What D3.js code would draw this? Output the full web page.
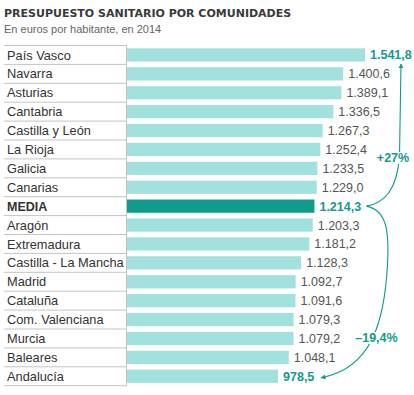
<!DOCTYPE html>
<html lang="es">
<head>
<meta charset="UTF-8">
<title>Presupuesto sanitario por comunidades</title>
<style>
  body { margin: 0; background: #fff; }
  svg { display: block; }
</style>
</head>
<body>
<svg id="chart" width="414" height="395"></svg>
<script src="https://d3js.org/d3.v7.min.js"></script>
<script>
// datos: euros por habitante, 2014
const regions = ["País Vasco", "Navarra", "Asturias", "Cantabria", "Castilla y León", "La Rioja",
  "Galicia", "Canarias", "MEDIA", "Aragón", "Extremadura", "Castilla - La Mancha", "Madrid",
  "Cataluña", "Com. Valenciana", "Murcia", "Baleares", "Andalucía"]
const values = [1541.8, 1400.6, 1389.1, 1336.5, 1267.3, 1252.4, 1233.5, 1229.0, 1214.3,
  1203.3, 1181.2, 1128.3, 1092.7, 1091.6, 1079.3, 1079.2, 1048.1, 978.5]
const highlighted = ["País Vasco", "MEDIA", "Andalucía"]
const annotations = ["+27%", "\u201319,4%"]

const data = regions.map((r, i) => ({ region: r, value: values[i] }))

const teal = "#119b8d"
const light = "#a3e1de"

const es = d3.formatLocale({ decimal: ",", thousands: ".", grouping: [3], currency: ["", "€"] })
const fmt = es.format(",.1f")

const svg = d3.select("#chart")

// titulo
svg.append("text")
  .attr("x", 4).attr("y", 17)
  .attr("font-family", "DejaVu Sans").attr("font-weight", "bold").attr("font-size", 11)
  .attr("fill", "#3a3a3a")
  .text("PRESUPUESTO SANITARIO POR COMUNIDADES")

svg.append("text")
  .attr("x", 4).attr("y", 33)
  .attr("font-family", "Liberation Sans, Arial").attr("font-size", 11)
  .attr("fill", "#666")
  .text("En euros por habitante, en 2014")

const topY = 45.5
const step = 18.9
const labelLeft = 4
const barLeft = 127

const rows = d3.scaleBand().domain(regions).range([topY, topY + step * regions.length])
const y = d3.scaleBand().domain(regions).range([topY, topY + step * regions.length])
  .paddingInner(0.3).paddingOuter(0.15)
const x = d3.scaleLinear().domain([0, d3.max(values)]).range([barLeft, 365])

// tabla de nombres
const grid = svg.append("g")
grid.append("line")
  .attr("x1", labelLeft).attr("x2", barLeft - 0.5)
  .attr("y1", topY).attr("y2", topY)
  .attr("stroke", "#c4c4c4")
grid.selectAll("line.row")
  .data(regions)
  .enter().append("line")
  .attr("class", "row")
  .attr("x1", labelLeft).attr("x2", barLeft - 0.5)
  .attr("y1", d => rows(d) + rows.bandwidth())
  .attr("y2", d => rows(d) + rows.bandwidth())
  .attr("stroke", "#c4c4c4")
grid.append("line")
  .attr("x1", barLeft - 0.5).attr("x2", barLeft - 0.5)
  .attr("y1", topY).attr("y2", topY + step * regions.length)
  .attr("stroke", "#c4c4c4")

svg.append("g").selectAll("text")
  .data(data)
  .enter().append("text")
  .attr("x", 7)
  .attr("y", d => rows(d.region) + rows.bandwidth() / 2)
  .attr("dy", "0.36em")
  .attr("font-family", "Liberation Sans, Arial")
  .attr("font-size", d => d.region === "MEDIA" ? 12.5 : 12.8)
  .attr("font-weight", d => d.region === "MEDIA" ? "bold" : "normal")
  .attr("fill", "#333")
  .text(d => d.region)

// barras
svg.append("g").selectAll("rect")
  .data(data)
  .enter().append("rect")
  .attr("x", x(0))
  .attr("y", d => y(d.region))
  .attr("width", d => x(d.value) - x(0))
  .attr("height", y.bandwidth())
  .attr("fill", d => d.region === "MEDIA" ? teal : light)

// valores
svg.append("g").selectAll("text")
  .data(data)
  .enter().append("text")
  .attr("x", d => x(d.value) + 5)
  .attr("y", d => rows(d.region) + rows.bandwidth() / 2)
  .attr("dy", "0.36em")
  .attr("font-family", "Liberation Sans, Arial")
  .attr("font-size", 12.5)
  .attr("font-weight", d => highlighted.includes(d.region) ? "bold" : "normal")
  .attr("fill", d => highlighted.includes(d.region) ? teal : "#555")
  .text(d => fmt(d.value))

// flechas
const defs = svg.append("defs")
defs.append("marker")
  .attr("id", "head")
  .attr("viewBox", "0 0 10 10")
  .attr("refX", 9).attr("refY", 5)
  .attr("markerWidth", 5).attr("markerHeight", 5)
  .attr("orient", "auto-start-reverse")
  .attr("markerUnits", "userSpaceOnUse")
  .append("path")
  .attr("d", "M0,0 L10,5 L0,10 z")
  .attr("fill", teal)

const yc = r => rows(r) + rows.bandwidth() / 2
const first = regions[0], last = regions[regions.length - 1]
const bx = x(values[regions.indexOf("MEDIA")]) + 52
const by = yc("MEDIA")
const tx = x(values[0]) + 36, ty = yc(first) + 9
const lx = x(values[values.length - 1]) + 43, ly = yc(last) + 1.5

const up = d3.path()
up.moveTo(bx, by)
up.bezierCurveTo(bx + 18, by - 3, tx - 4, by - 16, tx - 1.5, by - 50)
up.lineTo(tx, ty)

const down = d3.path()
down.moveTo(bx, by)
down.bezierCurveTo(bx + 20, by + 4, bx + 23, by + 24, bx + 21, by + 59)
down.bezierCurveTo(bx + 18, by + 114, bx + 6, by + 162, lx, ly)

svg.append("path").attr("d", up.toString())
  .attr("fill", "none").attr("stroke", teal).attr("stroke-width", 1.1)
  .attr("marker-end", "url(#head)")
svg.append("path").attr("d", down.toString())
  .attr("fill", "none").attr("stroke", teal).attr("stroke-width", 1.1)
  .attr("marker-end", "url(#head)")

// porcentajes
const notes = [
  { text: annotations[0], x: tx - 8, y: yc("La Rioja") + 8 },
  { text: annotations[1], x: bx + 10, y: yc("Murcia") - 1 }
]
const note = svg.append("g").selectAll("g")
  .data(notes)
  .enter().append("g")
note.append("text")
  .attr("x", d => d.x).attr("y", d => d.y)
  .attr("dy", "0.36em")
  .attr("text-anchor", "middle")
  .attr("font-family", "Liberation Sans, Arial")
  .attr("font-weight", "bold").attr("font-size", 12.5)
  .attr("fill", teal)
  .text(d => d.text)
note.each(function () {
  const g = d3.select(this)
  const b = g.select("text").node().getBBox()
  g.insert("rect", "text")
    .attr("x", b.x - 1).attr("y", b.y + 1)
    .attr("width", b.width + 2).attr("height", b.height - 2)
    .attr("fill", "#fff")
})
</script>
</body>
</html>
